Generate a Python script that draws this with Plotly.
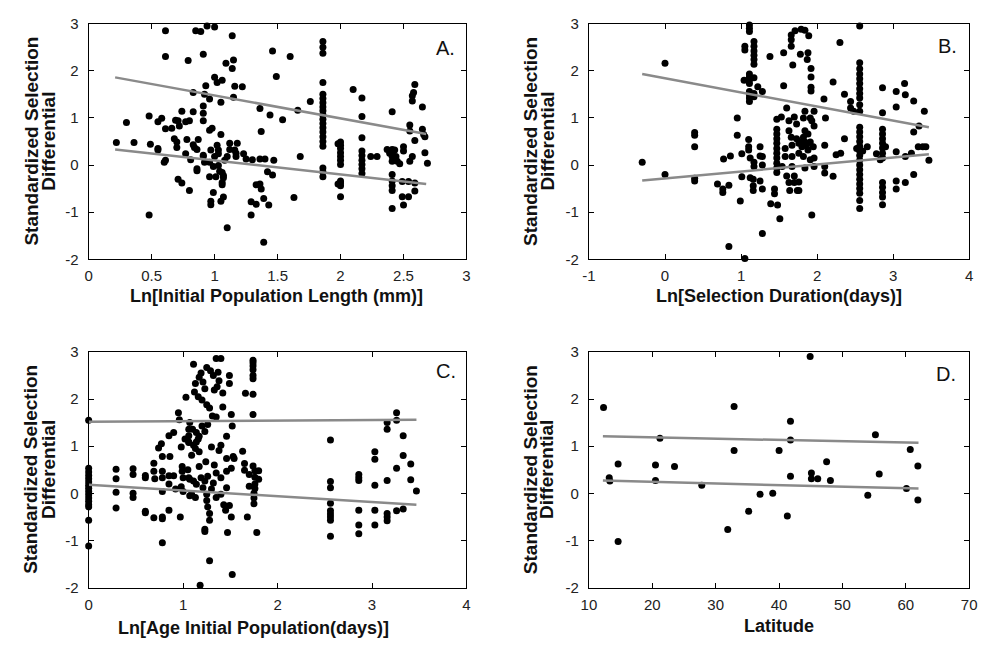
import plotly.graph_objects as go

# ---------------- data ----------------
a_points = [(0.61,2.85),(0.61,2.30),(0.85,2.85),(0.89,2.83),(0.94,2.95),(1.0,2.93),(1.14,2.74),(0.79,2.22),(0.91,2.35),(1.09,2.16),(1.15,2.23),(1.14,2.05),(1.46,2.42),(1.0,1.86),(1.02,1.75),(0.93,1.68),(1.06,1.80),(1.16,1.67),(1.22,1.66),(0.83,1.54),(0.92,1.50),(0.96,1.40),(1.15,1.44),(1.05,1.33),(1.36,1.20),(1.44,1.06),(0.91,1.25),(0.83,1.13),(0.74,1.14),(0.91,1.10),(0.48,1.04),(0.58,0.99),(0.55,0.92),(0.69,0.95),(0.71,0.94),(0.77,0.92),(0.80,0.94),(0.72,0.83),(0.91,0.94),(0.30,0.90),(0.61,0.77),(0.66,0.78),(0.96,0.74),(0.98,0.78),(1.37,0.71),(1.05,0.65),(0.68,0.56),(0.78,0.54),(0.87,0.54),(0.22,0.48),(0.36,0.48),(0.49,0.44),(0.70,0.49),(0.83,0.43),(0.55,0.35),(0.55,0.32),(0.70,0.37),(0.84,0.37),(0.86,0.33),(0.97,0.32),(1.02,0.42),(1.03,0.32),(1.12,0.46),(1.18,0.46),(1.12,0.33),(1.16,0.32),(0.77,0.24),(0.91,0.21),(1.03,0.24),(1.17,0.25),(1.23,0.24),(0.91,0.18),(1.00,0.18),(1.10,0.18),(1.17,0.18),(1.25,0.13),(1.30,0.11),(1.36,0.13),(1.40,0.13),(0.81,0.11),(0.92,0.06),(0.96,0.06),(1.08,0.10),(0.61,0.10),(0.60,0.06),(0.99,-0.03),(1.03,-0.01),(0.86,-0.08),(0.86,-0.12),(1.04,-0.13),(1.06,-0.16),(1.42,-0.14),(1.46,-0.21),(0.96,-0.25),(1.01,-0.25),(1.07,-0.22),(1.07,-0.27),(1.06,-0.37),(1.06,-0.42),(0.71,-0.30),(0.74,-0.38),(0.80,-0.54),(0.99,-0.58),(1.07,-0.68),(1.05,-0.77),(0.97,-0.77),(0.97,-0.84),(1.33,-0.42),(1.36,-0.40),(1.37,-0.51),(1.29,-0.78),(1.33,-0.83),(1.39,-0.71),(1.43,-0.85),(1.29,-1.06),(0.48,-1.06),(1.10,-1.33),(1.39,-1.64),
    (1.60,2.30),(1.49,1.88),(1.86,2.62),(1.86,2.50),(1.86,2.37),(1.86,1.75),(1.86,1.50),(1.86,1.41),(1.86,1.32),(1.86,1.23),(1.86,1.15),(1.86,1.06),(1.86,0.97),(1.86,0.88),(1.86,0.79),(1.86,0.70),(1.86,0.60),(1.86,0.50),(1.86,0.40),(1.86,-0.06),(1.86,-0.15),(1.86,-0.25),(1.76,1.35),(1.66,1.16),(1.54,0.96),(1.68,0.18),(1.47,0.10),(1.63,-0.69),
    (2.0,0.49),(2.0,0.42),(2.0,0.35),(2.0,0.26),(2.0,0.18),(2.0,0.10),(2.0,0.01),(2.0,-0.34),(2.0,-0.38),(2.0,-0.44),(2.0,-0.67),(1.98,0.45),(1.98,-0.40),
    (2.17,1.42),(2.17,1.03),(2.17,0.58),(2.17,0.30),(2.17,0.20),(2.17,0.10),(2.17,0.01),(2.17,-0.08),(2.17,-0.18),(2.10,1.60),(2.24,0.18),(2.29,0.18),
    (2.41,1.13),(2.41,0.33),(2.41,0.25),(2.41,0.18),(2.41,0.08),(2.41,-0.20),(2.41,-0.34),(2.41,-0.44),(2.41,-0.54),(2.41,-0.92),(2.37,0.33),(2.39,0.25),(2.43,0.32),(2.44,0.18),(2.45,0.08),(2.47,0.03),
    (2.50,0.39),(2.50,0.30),(2.55,0.85),(2.55,0.72),(2.59,1.71),(2.58,1.54),(2.57,1.47),(2.57,1.36),(2.59,0.52),(2.57,0.18),(2.55,0.08),(2.49,-0.35),(2.54,-0.35),(2.59,-0.38),(2.59,-0.55),(2.49,-0.67),(2.54,-0.67),(2.50,-0.85),(2.65,1.23),(2.65,0.76),(2.66,0.65),(2.67,0.60),(2.67,0.26),(2.69,0.04)]

b_points = [(-0.30,0.06),(0,2.16),(0,-0.20),(0.39,0.69),(0.39,0.63),(0.39,0.39),(0.39,-0.28),(0.39,-0.34),(0.69,-0.40),(0.77,0.13),(0.86,0.19),(0.76,-0.51),(0.76,-0.58),(0.84,-0.43),(0.95,1.0),(0.95,0.63),(1.01,0.24),(1.01,-0.25),(0.99,-0.76),(0.84,-1.73),(1.05,-1.98),(1.05,2.52),(1.05,2.44),(1.04,1.80),
    (1.11,2.97),(1.11,2.90),(1.11,2.83),(1.11,1.93),(1.11,1.87),(1.11,1.80),(1.11,1.73),(1.11,1.56),(1.11,1.49),(1.11,1.42),(1.11,1.35),
    (1.17,2.62),(1.17,2.52),(1.17,2.42),(1.17,2.33),(1.17,2.24),(1.17,2.14),(1.17,1.85),(1.17,1.52),(1.17,1.45),
    (1.10,0.54),(1.10,0.39),(1.10,0.32),(1.12,0.15),(1.17,0.06),(1.17,-0.03),(1.12,-0.27),(1.16,-0.30),(1.16,-0.44),(1.16,-0.54),(1.25,-0.34),(1.25,0.39),(1.25,0.19),(1.28,-1.45),(1.22,1.66),(1.28,1.56),
    (1.38,2.30),(1.28,0.18),(1.28,0.0),(1.28,-0.51),(1.39,-0.82),(1.47,0.97),
    (1.47,0.76),(1.47,0.66),(1.47,0.56),(1.47,0.46),(1.47,0.35),(1.47,0.25),(1.47,0.15),(1.47,0.04),(1.47,-0.06),(1.47,-0.16),
    (1.44,-0.51),(1.44,-0.61),(1.48,-0.85),(1.51,-1.14),(1.56,1.68),(1.56,2.38),(1.60,1.21),
    (1.66,2.76),(1.66,2.66),(1.66,2.52),(1.71,2.85),(1.79,2.88),(1.84,2.86),(1.89,2.74),(1.88,2.38),(1.78,2.35),(1.68,2.12),(1.87,2.24),(1.92,2.05),(1.92,1.87),(1.92,1.65),(1.92,1.57),
    (1.63,0.94),(1.63,0.73),(1.66,0.59),(1.67,0.42),(1.67,0.18),(1.67,-0.03),(1.70,-0.23),(1.70,-0.37),(1.74,-0.54),(1.76,-0.36),(1.76,0.46),(1.82,0.59),(1.84,0.49),(1.88,0.32),(1.91,0.11),(1.84,-0.06),(1.96,-0.03),(1.96,0.15),(1.82,1.0),(1.91,1.0),(1.93,0.94),(1.96,0.83),(1.84,1.14),(1.96,1.14),(1.93,-1.06),
    (1.73,0.56),(1.78,0.49),(1.80,0.39),(1.86,0.42),(1.91,0.49),(1.95,0.39),(1.76,0.25),(1.82,0.18),(1.58,0.35),(1.58,0.18),(1.54,-0.03),(1.60,-0.23),(1.63,-0.37),(1.64,-0.54),(1.76,-0.54),(1.53,1.02),(1.70,1.02),(1.73,0.87),(1.84,0.73),(1.88,0.66),
    (2.09,1.40),(2.11,1.0),(2.10,0.42),(2.10,-0.03),(2.10,-0.17),(2.21,1.76),(2.21,-0.24),(2.30,2.60),(2.36,1.50),(2.36,0.56),(2.25,0.22),(2.31,0.25),(2.44,1.35),(2.44,1.21),(2.48,1.14),
    (2.56,2.95),(2.56,2.17),(2.56,2.04),(2.56,1.93),(2.56,1.83),(2.56,1.73),(2.56,1.62),(2.56,1.52),(2.56,1.42),(2.56,1.28),(2.56,1.14),(2.56,0.80),(2.56,0.70),(2.56,0.60),(2.56,0.50),(2.56,0.40),(2.56,0.30),(2.56,0.20),(2.56,0.10),(2.56,0.0),(2.56,-0.10),(2.56,-0.20),(2.56,-0.30),(2.56,-0.40),(2.56,-0.50),(2.56,-0.60),(2.56,-0.75),(2.56,-0.92),(2.52,0.35),(2.60,0.30),(2.66,0.39),
    (2.86,1.64),(2.86,1.11),(2.86,0.76),(2.86,0.66),(2.86,0.56),(2.86,0.46),(2.86,0.36),(2.86,0.25),(2.86,0.15),(2.86,-0.37),(2.86,-0.47),(2.86,-0.58),(2.86,-0.68),(2.86,-0.84),(2.78,0.24),(2.83,0.11),(2.90,0.39),
    (3.04,1.56),(3.04,1.23),(3.04,0.28),(3.04,-0.34),(3.04,-0.51),(3.15,1.73),(3.16,1.49),(3.16,0.18),(3.16,-0.37),(3.27,1.36),(3.27,0.70),(3.27,-0.20),(3.34,0.83),(3.41,1.14),(3.33,0.39),(3.39,0.39),(3.43,0.39),(3.47,0.10),(3.24,0.25)]

c_points = [(0,0.53),(0,0.45),(0,0.38),(0,0.31),(0,0.24),(0,0.17),(0,0.11),(0,0.04),(0,-0.03),(0,-0.10),(0,-0.17),(0,-0.24),(0,-0.29),(0,-0.57),(0,-1.12),(0,1.55),
    (0.29,0.51),(0.29,0.31),(0.29,0.02),(0.29,-0.31),(0.47,0.52),(0.47,0.40),(0.47,0.0),(0.47,-0.09),(0.60,0.38),(0.60,0.33),(0.60,-0.38),(0.60,-0.41),(0.69,0.64),(0.69,0.47),(0.70,0.31),(0.69,-0.52),(0.74,0.96),(0.77,1.05),(0.78,0.78),(0.78,0.47),(0.78,0.33),(0.78,0.04),(0.78,-0.50),(0.78,-0.54),(0.78,-1.05),(0.85,1.22),(0.86,0.78),(0.85,0.37),(0.85,0.20),(0.85,-0.36),(0.90,1.29),(0.90,0.37),(0.92,0.09),(0.97,-0.50),(0.95,1.71),(0.96,1.56),(0.98,0.98),(0.99,0.57),(0.99,0.47),(1.0,0.33),(0.98,0.14),(1.0,0.04),(1.03,2.04),(1.06,1.36),(1.06,1.22),(1.06,1.08),(1.05,0.50),(1.07,0.30),(1.07,-0.05),
    (1.11,2.74),(1.19,2.55),(1.17,2.46),(1.21,2.36),(1.13,2.33),(1.23,2.22),(1.12,2.15),(1.16,2.05),(1.20,1.98),(1.25,1.88),(1.28,1.81),(1.25,2.67),(1.29,2.60),(1.32,2.50),(1.37,2.57),(1.35,2.86),(1.40,2.86),(1.38,2.39),(1.36,2.26),(1.33,2.19),(1.42,2.13),(1.49,2.50),(1.49,2.33),(1.42,1.83),(1.31,1.64),(1.35,1.62),(1.26,1.46),(1.23,1.31),(1.17,1.21),(1.14,1.09),(1.13,0.95),(1.09,0.81),(1.30,0.98),(1.40,1.02),(1.38,0.91),(1.46,1.21),(1.52,1.43),(1.51,1.67),(1.53,0.78),
    (1.07,1.50),(1.10,1.36),(1.14,1.29),(1.16,1.15),(1.20,1.43),(1.06,1.09),(1.11,1.02),(1.17,0.88),(1.02,1.15),
    (1.06,0.33),(1.11,0.26),(1.14,0.19),(1.19,0.33),(1.23,0.26),(1.26,0.36),(1.32,0.22),(1.35,0.43),(1.40,0.33),(1.46,0.47),(1.51,0.53),(1.54,0.74),(1.21,0.12),(1.25,-0.02),(1.30,0.09),(1.35,-0.09),(1.40,-0.02),(1.46,0.12),(1.09,-0.02),(1.13,-0.09),(1.17,0.57),(1.24,0.67),(1.33,0.60),(1.46,0.74),
    (1.25,-0.15),(1.26,-0.29),(1.28,-0.43),(1.28,-0.57),(1.23,-0.76),(1.23,-0.81),(1.28,-1.43),(1.18,-1.95),(1.52,-1.72),(1.47,-0.83),(1.51,-0.50),(1.43,-0.24),(1.45,-0.36),(1.49,-0.26),
    (1.74,2.82),(1.74,2.77),(1.74,2.70),(1.74,2.62),(1.74,2.50),(1.74,2.43),(1.74,2.10),(1.74,1.67),(1.74,0.58),(1.76,0.48),(1.76,0.34),(1.76,0.20),(1.76,0.10),(1.75,0.0),(1.75,-0.10),(1.75,-0.22),(1.78,-0.83),(1.66,2.12),(1.63,0.89),(1.65,0.63),(1.65,0.49),(1.68,-0.50),(1.70,0.15),(1.80,0.30),(1.80,0.48),(1.70,0.40),
    (2.56,1.13),(2.56,0.25),(2.56,0.12),(2.56,-0.21),(2.56,-0.37),(2.56,-0.44),(2.56,-0.50),(2.56,-0.57),(2.56,-0.91),(2.86,0.40),(2.86,0.33),(2.86,0.27),(2.86,-0.36),(2.86,-0.67),(2.86,-0.86),(3.03,0.88),(3.03,0.72),(3.03,0.17),(3.03,-0.36),(3.03,-0.67),(3.16,1.50),(3.16,1.36),(3.16,0.27),(3.16,-0.43),(3.16,-0.50),(3.16,-0.58),(3.26,1.71),(3.26,1.55),(3.26,0.53),(3.26,-0.37),(3.33,1.22),(3.33,0.80),(3.33,-0.33),(3.41,0.62),(3.41,0.29),(3.47,0.05)]

d_points = [(12.3,1.82),(13.2,0.33),(13.3,0.26),(14.6,0.62),(14.6,-1.02),(20.5,0.60),(20.5,0.27),(21.2,1.17),(23.5,0.57),(27.8,0.17),(31.9,-0.77),(32.9,1.84),(32.9,0.91),(35.2,-0.38),(37.0,-0.02),
    (39.0,0.0),(40.0,0.91),(41.3,-0.48),(41.8,1.53),(41.8,1.13),(41.8,0.36),(44.9,2.90),(45.1,0.43),(45.1,0.31),(46.1,0.31),(47.5,0.67),(48.1,0.27),(54.0,-0.04),(55.2,1.24),(55.8,0.41),(60.1,0.10),(60.7,0.93),(61.9,0.58),(61.9,-0.14)]

# regression lines (end points): x, upper y, lower y
a_fit_x, a_fit_up, a_fit_lo = [0.21, 2.68], [1.86, 0.66], [0.33, -0.40]
b_fit_x, b_fit_up, b_fit_lo = [-0.30, 3.47], [1.93, 0.80], [-0.33, 0.23]
c_fit_x, c_fit_up, c_fit_lo = [0.0, 3.47], [1.52, 1.56], [0.18, -0.24]
d_fit_x, d_fit_up, d_fit_lo = [12.2, 62.0], [1.21, 1.07], [0.27, 0.10]

y_ticks = [-2, -1, 0, 1, 2, 3]
y_ticktext = ["-2", "-1", "0", "1", "2", "3"]
a_ticks = [0, 0.5, 1, 1.5, 2, 2.5, 3]
a_ticktext = ["0", "0.5", "1", "1.5", "2", "2.5", "3"]
b_ticks = [-1, 0, 1, 2, 3, 4]
b_ticktext = ["-1", "0", "1", "2", "3", "4"]
c_ticks = [0, 1, 2, 3, 4]
c_ticktext = ["0", "1", "2", "3", "4"]
d_ticks = [10, 20, 30, 40, 50, 60, 70]
d_ticktext = ["10", "20", "30", "40", "50", "60", "70"]

x_titles = ["Ln[Initial Population Length (mm)]", "Ln[Selection Duration(days)]",
            "Ln[Age Initial Population(days)]", "Latitude"]
y_title_lines = ["Standardized Selection", "Differential"]
panel_letters = ["A.", "B.", "C.", "D."]

# ---------------- figure ----------------
W, H = 990, 656
FONT = "Liberation Sans, Arial, sans-serif"

def px(p):
    return p / W

def py(p):
    return 1 - p / H

fig = go.Figure()
panels = [
    (a_points, a_fit_x, a_fit_up, a_fit_lo, "x", "y"),
    (b_points, b_fit_x, b_fit_up, b_fit_lo, "x2", "y2"),
    (c_points, c_fit_x, c_fit_up, c_fit_lo, "x3", "y3"),
    (d_points, d_fit_x, d_fit_up, d_fit_lo, "x4", "y4"),
]
for pts, fx, fu, fl, xa, ya in panels:
    fig.add_trace(go.Scatter(x=[p[0] for p in pts], y=[p[1] for p in pts], mode="markers",
                             marker=dict(size=7, color="#000000", line=dict(width=0)),
                             xaxis=xa, yaxis=ya, showlegend=False, cliponaxis=False))
    for fy in (fu, fl):
        fig.add_trace(go.Scatter(x=fx, y=fy, mode="lines", line=dict(color="#8a8a8a", width=2.5),
                                 xaxis=xa, yaxis=ya, showlegend=False))

left_dom = [px(82), px(466)]
right_dom = [px(590.5), px(977)]
top_dom = [py(257), py(15)]
bot_dom = [py(594), py(352)]

def xax(dom, rng, tv, tt, anchor):
    return dict(domain=dom, range=rng, tickvals=tv, ticktext=tt, anchor=anchor,
                showline=True, linecolor="#000", linewidth=1, mirror="allticks",
                ticks="inside", ticklen=5, tickcolor="#000", showgrid=False, zeroline=False,
                ticklabelstandoff=3,
                tickfont=dict(family=FONT, size=15, color="#222"))

def yax(dom, anchor):
    return dict(domain=dom, range=[-2, 3], tickvals=y_ticks, ticktext=y_ticktext, anchor=anchor,
                showline=True, linecolor="#000", linewidth=1, mirror="allticks",
                ticks="inside", ticklen=5, tickcolor="#000", showgrid=False, zeroline=False,
                ticklabelstandoff=6,
                tickfont=dict(family=FONT, size=15, color="#222"))

fig.update_layout(
    width=W, height=H, margin=dict(l=0, r=0, t=0, b=0),
    paper_bgcolor="white", plot_bgcolor="white",
    xaxis=xax(left_dom, [0, 3], a_ticks, a_ticktext, "y"),
    yaxis=yax(top_dom, "x"),
    xaxis2=xax(right_dom, [-1, 4], b_ticks, b_ticktext, "y2"),
    yaxis2=yax(top_dom, "x2"),
    xaxis3=xax(left_dom, [0, 4], c_ticks, c_ticktext, "y3"),
    yaxis3=yax(bot_dom, "x3"),
    xaxis4=xax(right_dom, [10, 70], d_ticks, d_ticktext, "y4"),
    yaxis4=yax(bot_dom, "x4"),
)

ann = []
# y titles (two lines, placed individually)
for x1, x2, yc in [(23.5, 41, 136), (23.5, 41, 473), (531, 548, 136), (531, 548, 473)]:
    for txt, xc in zip(y_title_lines, (x1, x2)):
        ann.append(dict(x=px(xc), y=py(yc), xref="paper", yref="paper", text="<b>" + txt + "</b>",
                        textangle=-90, showarrow=False, xanchor="center", yanchor="middle",
                        font=dict(family=FONT, size=19, color="#111")))
# x titles
for t, xc, yc in zip(x_titles, [273, 784, 250, 784], [295, 295, 635, 633]):
    ann.append(dict(x=px(xc), y=py(yc), xref="paper", yref="paper", text="<b>" + t + "</b>",
                    showarrow=False, xanchor="center", yanchor="middle",
                    font=dict(family=FONT, size=18, color="#111")))
# panel letters
for t, xc, yc in zip(panel_letters, [445, 955, 445, 953], [40, 38, 372, 375]):
    ann.append(dict(x=px(xc), y=py(yc), xref="paper", yref="paper", text=t,
                    showarrow=False, xanchor="center", yanchor="middle",
                    font=dict(family=FONT, size=20, color="#111")))
fig.update_layout(annotations=ann)

fig.write_html("out.html")
